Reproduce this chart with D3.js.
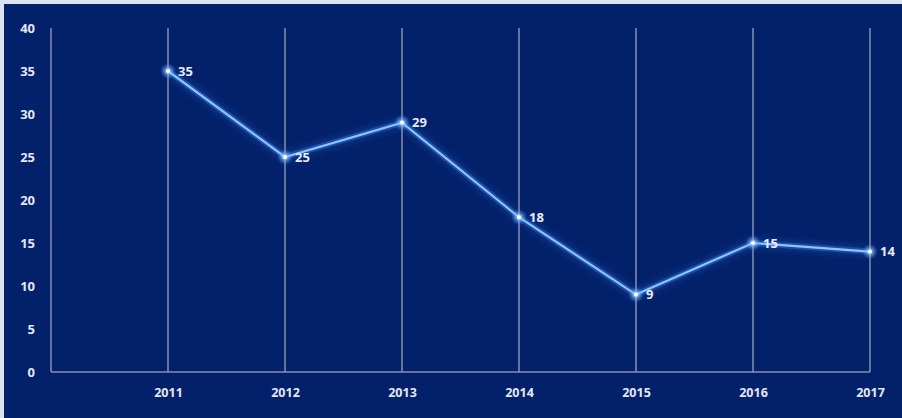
<!DOCTYPE html>
<html>
<head>
<meta charset="utf-8">
<script src="https://cdn.jsdelivr.net/npm/d3@7"></script>
<style>
  html, body { margin: 0; padding: 0; background: #03206a; }
  svg { display: block; }
</style>
</head>
<body>
<script>
// data
const years = [2011, 2012, 2013, 2014, 2015, 2016, 2017];
const values = [35, 25, 29, 18, 9, 15, 14];
const yTicks = [0, 5, 10, 15, 20, 25, 30, 35, 40];

const width = 902, height = 418;
const margin = { top: 28, right: 32, bottom: 46, left: 51 };
const bg = "#03206a";

const svg = d3.select("body").append("svg")
  .attr("width", width)
  .attr("height", height);

// background + light frame on top/left
svg.append("rect").attr("width", width).attr("height", height).attr("fill", "#dde3ee");
svg.append("rect").attr("x", 4).attr("y", 4).attr("width", width - 4).attr("height", height - 4)
  .attr("fill", bg);

const defs = svg.append("defs");
const glow = defs.append("filter").attr("id", "glow")
  .attr("x", "-20%").attr("y", "-50%").attr("width", "140%").attr("height", "200%");
glow.append("feGaussianBlur").attr("stdDeviation", 4).attr("result", "b");
const mg = glow.append("feMerge");
mg.append("feMergeNode").attr("in", "b");
mg.append("feMergeNode").attr("in", "SourceGraphic");

const dotGlow = defs.append("radialGradient").attr("id", "dotGlow");
dotGlow.append("stop").attr("offset", "0%").attr("stop-color", "#ffffff").attr("stop-opacity", 1);
dotGlow.append("stop").attr("offset", "30%").attr("stop-color", "#9fd0ff").attr("stop-opacity", 0.7);
dotGlow.append("stop").attr("offset", "100%").attr("stop-color", "#3a8cff").attr("stop-opacity", 0);

// scales
const x = d3.scaleLinear()
  .domain([2010, 2017])
  .range([margin.left, width - margin.right]);
const y = d3.scaleLinear()
  .domain([0, 40])
  .range([height - margin.bottom, margin.top]);

const gridColor = "#8791ad";

// vertical grid lines (left edge + each year)
svg.append("g").selectAll("line")
  .data([2010].concat(years))
  .join("line")
  .attr("x1", d => x(d)).attr("x2", d => x(d))
  .attr("y1", y(40)).attr("y2", y(0))
  .attr("stroke", gridColor)
  .attr("stroke-width", 1.5);

// baseline
svg.append("line")
  .attr("x1", x(2010)).attr("x2", x(2017))
  .attr("y1", y(0)).attr("y2", y(0))
  .attr("stroke", gridColor)
  .attr("stroke-width", 1.5);

const font = "'Open Sans', 'DejaVu Sans', sans-serif";

// y axis labels
const yAxis = d3.axisLeft(y).tickValues(yTicks).tickSize(0).tickPadding(0);
svg.append("g")
  .attr("transform", `translate(${35},0)`)
  .call(yAxis)
  .call(g => g.select(".domain").remove())
  .selectAll("text")
  .attr("fill", "#e4e8f2")
  .attr("font-family", font)
  .attr("font-weight", "bold")
  .attr("font-size", 13);

// x axis labels
const xAxis = d3.axisBottom(x).tickValues(years).tickFormat(d3.format("d")).tickSize(0).tickPadding(0);
svg.append("g")
  .attr("transform", `translate(0,${388})`)
  .call(xAxis)
  .call(g => g.select(".domain").remove())
  .selectAll("text")
  .attr("fill", "#e4e8f2")
  .attr("font-family", font)
  .attr("font-weight", "bold")
  .attr("font-size", 12.5);

// line
const pts = years.map((yr, i) => [yr, values[i]]);
const line = d3.line().x(d => x(d[0])).y(d => y(d[1]));

svg.append("path")
  .datum(pts)
  .attr("d", line)
  .attr("fill", "none")
  .attr("stroke", "#3f8fff")
  .attr("stroke-width", 6)
  .attr("stroke-opacity", 0.3)
  .attr("filter", "url(#glow)");

svg.append("path")
  .datum(pts)
  .attr("d", line)
  .attr("fill", "none")
  .attr("stroke", "#8cc4ff")
  .attr("stroke-width", 2.2);

// points
svg.append("g").selectAll("circle.glow")
  .data(pts)
  .join("circle")
  .attr("cx", d => x(d[0])).attr("cy", d => y(d[1]))
  .attr("r", 8)
  .attr("fill", "url(#dotGlow)");

svg.append("g").selectAll("circle.dot")
  .data(pts)
  .join("circle")
  .attr("cx", d => x(d[0])).attr("cy", d => y(d[1]))
  .attr("r", 2)
  .attr("fill", "#ffffff");

// data labels
svg.append("g").selectAll("text")
  .data(pts)
  .join("text")
  .attr("x", d => x(d[0]) + 10)
  .attr("y", d => y(d[1]))
  .attr("dy", "0.35em")
  .attr("fill", "#e8ecf5")
  .attr("font-family", font)
  .attr("font-weight", "bold")
  .attr("font-size", 13)
  .text(d => d[1]);
</script>
</body>
</html>
